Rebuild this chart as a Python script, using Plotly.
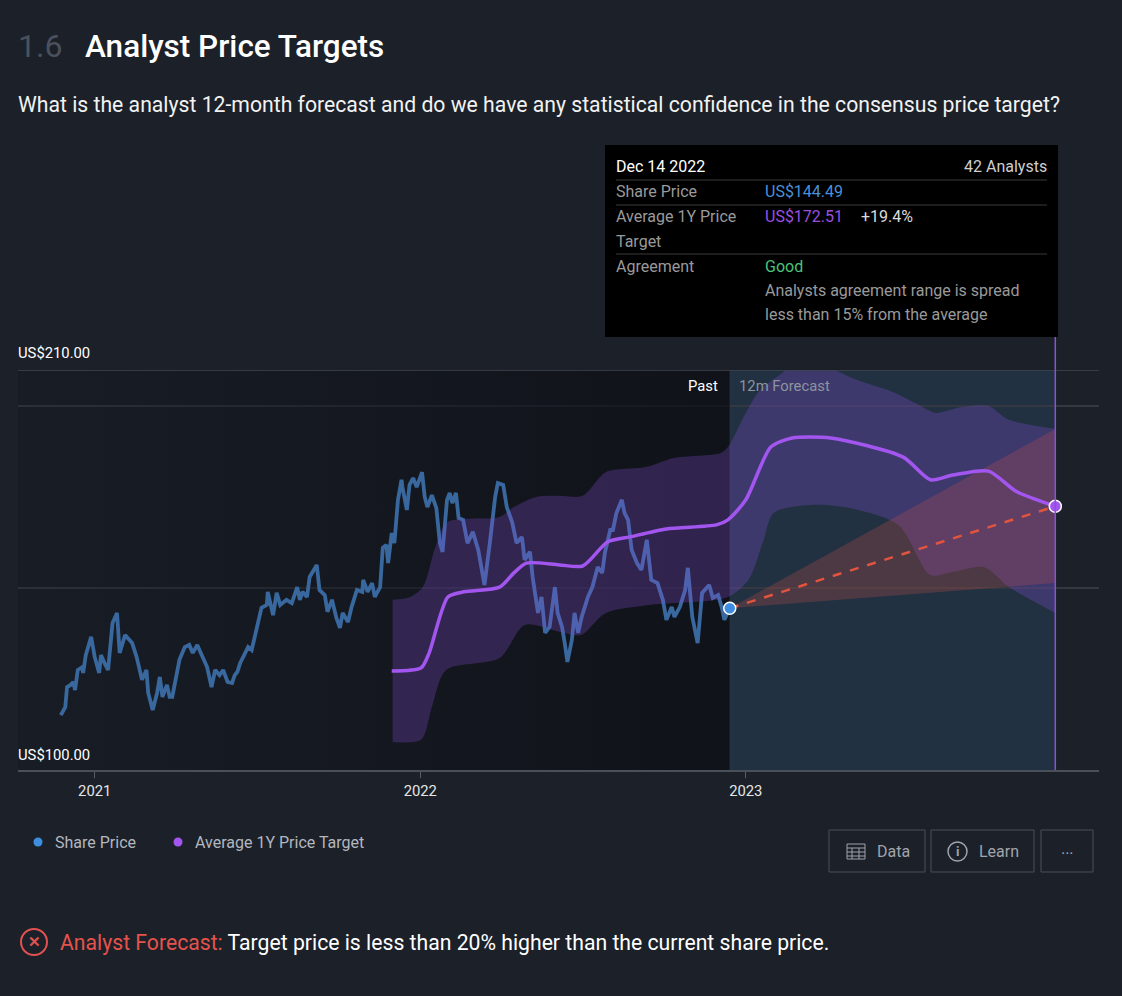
import plotly.graph_objects as go

# share price (US$)
price_dates = [
    "2020-11-24", "2020-11-29", "2020-12-01", "2020-12-05", "2020-12-08", "2020-12-10", "2020-12-13",
    "2020-12-18", "2020-12-19", "2020-12-22", "2020-12-28",
    "2021-01-01", "2021-01-06", "2021-01-08", "2021-01-12", "2021-01-16", "2021-01-21", "2021-01-26",
    "2021-01-29", "2021-02-04", "2021-02-12", "2021-02-17", "2021-02-23", "2021-02-28", "2021-03-02",
    "2021-03-07", "2021-03-12", "2021-03-15", "2021-03-18", "2021-03-23", "2021-03-26", "2021-03-29",
    "2021-04-06", "2021-04-12", "2021-04-17", "2021-04-21", "2021-04-26", "2021-05-02", "2021-05-07",
    "2021-05-12", "2021-05-16", "2021-05-21", "2021-05-25", "2021-05-30",
    "2021-06-04", "2021-06-07", "2021-06-10", "2021-06-13", "2021-06-18", "2021-06-22", "2021-06-26",
    "2021-07-02", "2021-07-07", "2021-07-13", "2021-07-14", "2021-07-20", "2021-07-24", "2021-07-28",
    "2021-08-04", "2021-08-10", "2021-08-16", "2021-08-19", "2021-08-22", "2021-08-27", "2021-08-30",
    "2021-09-07", "2021-09-10", "2021-09-16", "2021-09-19", "2021-09-24", "2021-09-29",
    "2021-10-03", "2021-10-06", "2021-10-12", "2021-10-16", "2021-10-22", "2021-10-28", "2021-10-29",
    "2021-11-03", "2021-11-08", "2021-11-11", "2021-11-17", "2021-11-20", "2021-11-24", "2021-11-26",
    "2021-11-30", "2021-12-03", "2021-12-07", "2021-12-11", "2021-12-12", "2021-12-17", "2021-12-20",
    "2021-12-24", "2021-12-28",
    "2022-01-03", "2022-01-06", "2022-01-09", "2022-01-14", "2022-01-19", "2022-01-23", "2022-01-26",
    "2022-01-31", "2022-02-03", "2022-02-06", "2022-02-10", "2022-02-13", "2022-02-18", "2022-02-23",
    "2022-03-01", "2022-03-07", "2022-03-14", "2022-03-20", "2022-03-26", "2022-03-29",
    "2022-04-04", "2022-04-08", "2022-04-14", "2022-04-19", "2022-04-25", "2022-04-28",
    "2022-05-04", "2022-05-07", "2022-05-13", "2022-05-17", "2022-05-21", "2022-05-26",
    "2022-06-01", "2022-06-04", "2022-06-09", "2022-06-12", "2022-06-15", "2022-06-20", "2022-06-23",
    "2022-06-27", "2022-07-01", "2022-07-08", "2022-07-13", "2022-07-19", "2022-07-24", "2022-07-27",
    "2022-08-02", "2022-08-05", "2022-08-09", "2022-08-15", "2022-08-18", "2022-08-22", "2022-08-26",
    "2022-09-01", "2022-09-06", "2022-09-12", "2022-09-17", "2022-09-24", "2022-09-30",
    "2022-10-04", "2022-10-10", "2022-10-13", "2022-10-19", "2022-10-25", "2022-10-28",
    "2022-11-02", "2022-11-08", "2022-11-13", "2022-11-18", "2022-11-21", "2022-11-25",
    "2022-12-01", "2022-12-05", "2022-12-08", "2022-12-14",
]
price_values = [
    115.1, 117.3, 122.8, 123.4, 124.2, 122.0, 127.5, 128.3, 126.7, 131.6, 136.6,
    131.1, 126.7, 131.6, 129.4, 127.5, 140.4, 143.2, 132.2, 137.1, 134.9, 131.1, 124.8, 127.5, 121.2,
    116.5, 121.2, 125.6, 120.1, 123.4, 120.1, 120.1, 130.3, 133.8, 134.4, 132.2, 134.4, 131.1, 128.3,
    122.8, 127.5, 126.1, 127.5, 124.2,
    123.9, 126.1, 127.0, 129.4, 131.6, 133.8, 133.0, 139.3, 144.6, 145.4, 149.0, 142.6, 148.7, 145.4,
    146.8, 145.9, 150.3, 146.8, 149.0, 147.6, 153.1, 156.4, 149.5, 148.1, 143.5, 146.8, 141.8,
    139.1, 143.2, 140.7, 144.8, 149.5, 149.0, 152.3, 149.0, 151.4, 147.6, 150.3, 161.1, 161.9, 156.9,
    165.2, 162.4, 174.3, 179.8, 177.8, 171.5, 178.4, 180.3, 177.8,
    181.9, 175.1, 172.3, 175.6, 172.1, 162.4, 160.0, 174.3, 176.2, 173.4, 176.2, 169.3, 168.8, 162.4,
    165.5, 160.5, 150.9, 162.4, 175.1, 178.9, 178.4, 172.3, 168.2, 162.4, 164.1, 157.8,
    160.0, 153.1, 143.2, 147.6, 137.7, 139.3,
    150.3, 143.2, 139.3, 134.9, 129.7, 135.8, 143.2, 137.7, 142.1, 147.6, 150.3, 155.8, 154.2, 159.7,
    166.0, 166.0, 170.7, 174.3, 170.7, 168.8, 160.5, 156.9, 155.0, 163.3, 152.3, 151.4, 146.8,
    141.3, 144.8, 142.1, 144.8, 149.5, 155.6, 142.1, 134.9, 148.7, 150.3, 150.9, 147.3,
    148.1, 144.8, 141.3, 144.49,
]

# average 1Y price target (plotted 12 months ahead)
target_dates = [
    "2021-11-30", "2022-01-02", "2022-01-11", "2022-02-01", "2022-02-19", "2022-03-31", "2022-04-16",
    "2022-04-30", "2022-06-06", "2022-07-02", "2022-07-30", "2022-08-24", "2022-10-04", "2022-11-29",
    "2022-12-12", "2023-01-01", "2023-01-29", "2023-02-22", "2023-04-06", "2023-06-26", "2023-07-27",
    "2023-08-21", "2023-09-30", "2023-11-01", "2023-12-14",
]
target_values = [
    127.2, 128.1, 132.2, 147.6, 149.0, 150.3, 154.2, 156.9, 156.4, 156.1, 162.7, 164.1, 166.3, 167.4,
    168.8, 174.3, 188.8, 191.3, 191.3, 186.1, 179.8, 181.1, 182.2, 176.5, 172.51,
]

# analyst range (high / low edge of the purple band)
upper_dates = [
    "2021-12-01", "2021-12-21", "2022-01-04", "2022-01-18", "2022-02-01", "2022-03-31", "2022-04-16",
    "2022-05-11", "2022-06-06", "2022-07-02", "2022-07-28", "2022-09-11", "2022-10-12", "2022-12-04",
    "2022-12-12", "2023-01-01", "2023-01-17", "2023-02-08", "2023-02-19", "2023-04-04", "2023-05-05",
    "2023-06-14", "2023-07-14", "2023-08-02", "2023-08-31", "2023-09-30", "2023-10-23", "2023-12-14",
]
upper_values = [
    146.8, 147.6, 150.3, 161.3, 168.2, 169.6, 172.3, 175.1, 175.4, 175.4, 181.9, 183.3, 185.8, 187.2,
    188.8, 198.2, 204.5, 208.6, 210.5, 210.5, 207.3, 204.0, 200.4, 198.2, 199.8, 200.1, 196.3, 193.8,
]
lower_dates = [
    "2021-12-01", "2022-01-02", "2022-01-14", "2022-01-30", "2022-03-31", "2022-04-28", "2022-06-06",
    "2022-06-30", "2022-07-28", "2022-09-14", "2022-12-12", "2023-01-04", "2023-01-21", "2023-02-01",
    "2023-03-13", "2023-04-22", "2023-06-21", "2023-07-27", "2023-08-21", "2023-09-25", "2023-10-23",
    "2023-12-14",
]
lower_values = [
    107.7, 108.3, 117.3, 127.5, 130.8, 139.9, 138.0, 137.1, 143.2, 145.4, 147.6, 152.3, 163.3, 170.7,
    172.9, 172.3, 167.4, 153.6, 154.5, 155.8, 150.3, 143.2,
]

last_date = "2022-12-14"
last_price = 144.49
target_date = "2023-12-14"
avg_target = 172.51
high_target = 193.8
low_target = 151.4

x_start, x_end = "2020-10-07", "2024-02-01"
y_min, y_max = 100, 210
year_ticks = ["2021-01-01", "2022-01-01", "2023-01-01"]
year_labels = ["2021", "2022", "2023"]

BG = "#1b2029"
FONT = "Roboto"

# plot box in page pixels, used to place the text around it
L, R, T, B = 18, 1099, 370, 770


def px(x):
    return (x - L) / (R - L)


def py(y):
    return (B - y) / (B - T)


fig = go.Figure()

# darker "past" zone, fading in towards today
fig.add_trace(go.Scatter(
    x=[x_start, last_date, last_date, x_start], y=[y_min, y_min, y_max, y_max],
    fill="toself", mode="none", hoverinfo="skip",
    fillgradient=dict(type="horizontal",
                      colorscale=[[0, "rgba(13,15,21,0.2)"], [1, "rgba(13,15,21,0.8)"]]),
))

fig.add_trace(go.Scatter(x=price_dates, y=price_values, mode="lines",
                         line=dict(color="#39689e", width=3.8)))

fig.add_trace(go.Scatter(x=upper_dates, y=upper_values, mode="lines",
                         line=dict(width=0, shape="spline", smoothing=0.8)))
fig.add_trace(go.Scatter(x=lower_dates, y=lower_values, mode="lines", fill="tonexty",
                         fillcolor="rgba(138,82,222,0.27)",
                         line=dict(width=0, shape="spline", smoothing=0.8)))

# forecast cone
fig.add_trace(go.Scatter(
    x=[last_date, target_date, target_date, last_date],
    y=[last_price, high_target, low_target, last_price],
    fill="toself", mode="none", fillcolor="rgba(226,88,74,0.22)"))

fig.add_trace(go.Scatter(x=target_dates, y=target_values, mode="lines",
                         line=dict(color="#a356ef", width=3.5, shape="spline", smoothing=0.7)))

fig.add_trace(go.Scatter(x=[last_date, target_date], y=[last_price, avg_target], mode="lines",
                         line=dict(color="#e2543e", width=2.5, dash="dash")))

fig.add_trace(go.Scatter(x=[last_date], y=[last_price], mode="markers", cliponaxis=False,
                         marker=dict(size=12, color="#3d8de0", line=dict(color="white", width=1.5))))
fig.add_trace(go.Scatter(x=[target_date], y=[avg_target], mode="markers", cliponaxis=False,
                         marker=dict(size=12, color="#a356ef", line=dict(color="white", width=1.5))))

shapes = [
    # forecast zone
    dict(type="rect", xref="x", yref="y", x0=last_date, x1=target_date, y0=y_min, y1=y_max,
         fillcolor="#223142", line=dict(width=0), layer="below"),
    dict(type="line", xref="x", yref="y", x0=last_date, x1=last_date, y0=y_min, y1=y_max,
         line=dict(color="#2e3c4c", width=1), layer="below"),
    # top rule
    dict(type="line", xref="paper", yref="y", x0=0, x1=1, y0=y_max, y1=y_max,
         line=dict(color="#41464f", width=1.5)),
    # target date marker line
    dict(type="line", xref="x", yref="paper", x0=target_date, x1=target_date, y0=0, y1=py(337),
         line=dict(color="#8c50dc", width=1.5)),
    # tooltip
    dict(type="rect", xref="paper", yref="paper", x0=px(605), x1=px(1058), y0=py(337), y1=py(145),
         fillcolor="#000000", line=dict(width=0)),
]
for sy in [180, 205, 254]:
    shapes.append(dict(type="line", xref="paper", yref="paper", x0=px(616), x1=px(1047),
                       y0=py(sy), y1=py(sy), line=dict(color="#3a3a3a", width=1)))

# legend dots
for cx, col in [(38, "#3d8de0"), (178, "#a356ef")]:
    shapes.append(dict(type="circle", xref="paper", yref="paper", x0=px(cx - 4.5), x1=px(cx + 4.5),
                       y0=py(842 + 4.5), y1=py(842 - 4.5), fillcolor=col, line=dict(width=0)))

# buttons
for x0, x1 in [(829, 925), (931, 1034), (1041, 1093)]:
    shapes.append(dict(type="rect", xref="paper", yref="paper", x0=px(x0), x1=px(x1),
                       y0=py(872), y1=py(830), line=dict(color="#4a4f58", width=1)))
# table icon
shapes.append(dict(type="rect", xref="paper", yref="paper", x0=px(847), x1=px(865),
                   y0=py(859), y1=py(844), line=dict(color="#a0a4ac", width=1)))
for gy in [848, 852, 856]:
    shapes.append(dict(type="line", xref="paper", yref="paper", x0=px(847), x1=px(865),
                       y0=py(gy), y1=py(gy), line=dict(color="#a0a4ac", width=1)))
for gx in [852, 859]:
    shapes.append(dict(type="line", xref="paper", yref="paper", x0=px(gx), x1=px(gx),
                       y0=py(859), y1=py(848), line=dict(color="#a0a4ac", width=1)))
# info icon
shapes.append(dict(type="circle", xref="paper", yref="paper", x0=px(948), x1=px(967),
                   y0=py(861), y1=py(842), line=dict(color="#a0a4ac", width=1.5)))
# red cross icon
shapes.append(dict(type="circle", xref="paper", yref="paper", x0=px(21), x1=px(47),
                   y0=py(955), y1=py(929), line=dict(color="#e0524f", width=2)))


def note(x, y, text, size=16, color="#ffffff", anchor="left", weight=None):
    # annotations carry a couple of px of padding; pull them back onto the wanted edge
    shift = {"left": -2, "right": 2, "center": 0}[anchor]
    f = dict(family=FONT, size=size, color=color)
    if weight:
        f["weight"] = weight
    return dict(xref="paper", yref="paper", x=px(x + shift), y=py(y), text=text, showarrow=False,
                xanchor=anchor, yanchor="middle", font=f)


annotations = [
    note(18, 46, "1.6", size=32, color="#4b515c"),
    note(85, 46, "Analyst Price Targets", size=31.5, weight=500),
    note(18, 104, "What is the analyst 12-month forecast and do we have any statistical confidence"
                  " in the consensus price target?", size=21.2, color="#f2f2f2"),
    note(18, 353, "US$210.00", size=14.8),
    note(18, 755, "US$100.00", size=14.8),
    note(718, 386, "Past", size=14.8, anchor="right"),
    note(739, 386, "12m Forecast", size=14.8, color="#8d949e"),
    # tooltip
    note(616, 167, "Dec 14 2022"),
    note(1047, 167, "42 Analysts", color="#cfcfcf", anchor="right"),
    note(616, 192, "Share Price", color="#9a9a9a"),
    note(765, 192, "US$144.49", color="#4a90d9"),
    note(616, 217, "Average 1Y Price", color="#9a9a9a"),
    note(616, 241, "Target", color="#9a9a9a"),
    note(765, 217, "US$172.51", color="#9b4fe0"),
    note(861, 217, "+19.4%", color="#dcdcdc"),
    note(616, 266, "Agreement", color="#9a9a9a"),
    note(765, 266, "Good", color="#4cc27a"),
    note(765, 290, "Analysts agreement range is spread", color="#9a9a9a"),
    note(765, 314, "less than 15% from the average", color="#9a9a9a"),
    # legend
    note(55, 842, "Share Price", color="#b3b7bf"),
    note(195, 842, "Average 1Y Price Target", color="#b3b7bf"),
    # buttons
    note(877, 851, "Data", color="#a0a4ac"),
    note(957.5, 851, "i", size=13, color="#a0a4ac", anchor="center", weight=700),
    note(979, 851, "Learn", color="#a0a4ac"),
    note(1067, 853, "···", color="#a0a4ac", anchor="center"),
    # verdict
    note(34, 942, "✕", size=15, color="#e0524f", anchor="center", weight=700),
    note(60, 942, '<span style="color:#e5534b">Analyst Forecast:</span> Target price is less than'
                  ' 20% higher than the current share price.', size=21.2, color="#ffffff"),
]

fig.update_layout(
    width=1122, height=996, autosize=False,
    margin=dict(l=L, r=1122 - R, t=T, b=996 - B, pad=0),
    paper_bgcolor=BG, plot_bgcolor="rgba(0,0,0,0)",
    showlegend=False, hovermode=False,
    font=dict(family=FONT, color="#ffffff"),
    shapes=shapes, annotations=annotations,
    xaxis=dict(type="date", range=[x_start, x_end], tickvals=year_ticks, ticktext=year_labels,
               ticks="outside", ticklen=6, tickcolor="#5a5f68", showline=True,
               linecolor="#4a4f58", linewidth=2, showgrid=False, zeroline=False,
               tickfont=dict(size=14.8, color="#e6e6e6"), fixedrange=True),
    yaxis=dict(range=[y_min, y_max], tickvals=[150, 200], showticklabels=False,
               gridcolor="#333842", gridwidth=1.5, zeroline=False, showline=False,
               fixedrange=True),
)

fig.write_html("out.html", config={"displayModeBar": False},
               post_script="document.body.style.margin='0';")
